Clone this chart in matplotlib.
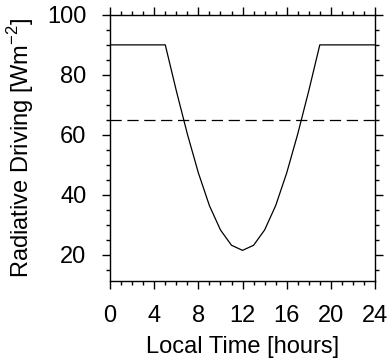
import matplotlib
matplotlib.use('Agg')
import matplotlib.pyplot as plt
from matplotlib.ticker import MultipleLocator

plt.rcParams['font.family'] = ['Liberation Sans', 'DejaVu Sans']
plt.rcParams['mathtext.fontset'] = 'custom'
plt.rcParams['mathtext.rm'] = 'Liberation Sans'

# hourly radiative driving
hours = list(range(25))
driving = [90, 90, 90, 90, 90, 90, 74.7, 60.3, 47.3, 36.4, 28.3, 23.2, 21.5,
           23.2, 28.3, 36.4, 47.3, 60.3, 74.7, 90, 90, 90, 90, 90, 90]
threshold = 65

fig = plt.figure(figsize=(3.89, 3.63), dpi=100)
ax = fig.add_axes([0.283, 0.226, 0.681, 0.733])

ax.plot(hours, driving, color='black', lw=0.9)
ax.axhline(threshold, color='black', lw=0.9, ls=(0, (9, 4.5)))

ax.set_xlim(0, 24)
ax.set_ylim(11.3, 100)
ax.xaxis.set_major_locator(MultipleLocator(4))
ax.xaxis.set_minor_locator(MultipleLocator(1))
ax.yaxis.set_major_locator(MultipleLocator(20))
ax.yaxis.set_minor_locator(MultipleLocator(5))
ax.tick_params(which='both', direction='out', top=True, right=True,
               labelsize=17, width=1)
ax.tick_params(axis='x', pad=11)
ax.tick_params(axis='y', pad=11)
ax.tick_params(which='major', length=6)
ax.tick_params(which='minor', length=3)
for s in ax.spines.values():
    s.set_linewidth(1)

ax.set_xlabel('Local Time [hours]', fontsize=17, labelpad=7)
ax.set_ylabel('Radiative Driving [Wm$^{\\mathrm{-2}}$]', fontsize=17, labelpad=8)

fig.savefig('out.png', dpi=100)
